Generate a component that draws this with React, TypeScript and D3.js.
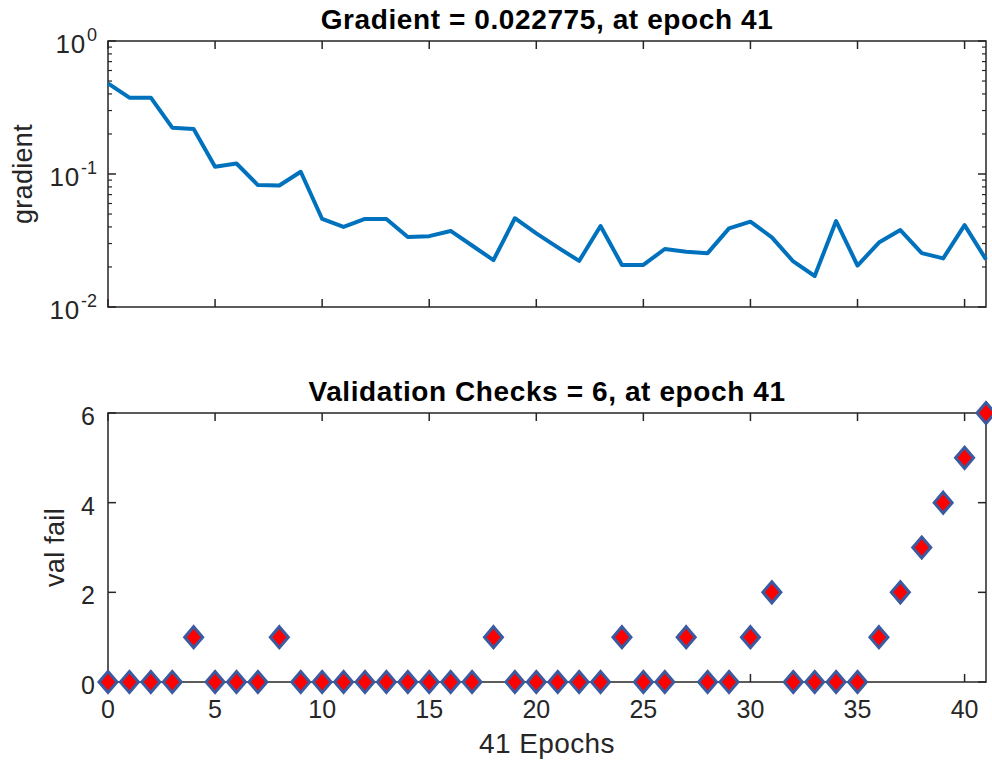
import React from 'react';
import * as d3 from 'd3';

// values
const epochs = d3.range(0, 42);
const gradient = [
  0.48, 0.375, 0.375, 0.223, 0.218, 0.1135, 0.12, 0.0826, 0.082, 0.104,
  0.0459, 0.04, 0.0459, 0.0459, 0.0336, 0.0341, 0.0373, 0.029, 0.0225, 0.0465,
  0.0358, 0.0281, 0.0222, 0.0406, 0.0207, 0.0207, 0.0273, 0.026, 0.0254, 0.039,
  0.0438, 0.0334, 0.022, 0.0171, 0.0443, 0.0205, 0.0305, 0.0379, 0.0254, 0.0232,
  0.0413, 0.022775,
];
const valFail = [
  0, 0, 0, 0, 1, 0, 0, 0, 1, 0, 0, 0, 0, 0, 0, 0, 0, 0, 1, 0, 0, 0, 0, 0, 1, 0,
  0, 1, 0, 0, 1, 2, 0, 0, 0, 0, 1, 2, 3, 4, 5, 6,
];
const xTicks = [0, 5, 10, 15, 20, 25, 30, 35, 40];
const valTicks = [0, 2, 4, 6];
const logTicks = [-2, -1, 0];

const W = 992;
const H = 767;
const FONT = '"Liberation Sans", Arial, sans-serif';
const AXIS = '#262626';

const App = () => {
  const left = 108;
  const right = 986;
  const top1 = 41;
  const bot1 = 307;
  const top2 = 413;
  const bot2 = 682;

  const x = d3.scaleLinear().domain([0, 41]).range([left, right]);
  const yG = d3.scaleLog().domain([0.01, 1]).range([bot1, top1]);
  const yV = d3.scaleLinear().domain([0, 6]).range([bot2, top2]);

  const line = d3
    .line<number>()
    .x((_, i) => x(epochs[i]))
    .y((d) => yG(d));

  // minor log ticks (2..9 of each decade)
  const minor = yG.ticks().filter((t) => Math.abs(Math.log10(t) - Math.round(Math.log10(t))) > 1e-6);

  const diamond = (cx: number, cy: number) =>
    `M${cx},${cy - 10.5}L${cx + 9},${cy}L${cx},${cy + 10.5}L${cx - 9},${cy}Z`;

  return (
    <svg width={W} height={H} style={{ position: 'absolute', left: 0, top: 0, background: '#fff' }} fontFamily={FONT}>
      {/* gradient panel */}
      <text x={(left + right) / 2} y={29} textAnchor="middle" fontSize={28} fontWeight="bold" letterSpacing={0.6} fill="#000">
        Gradient = 0.022775, at epoch 41
      </text>
      <rect x={left} y={top1} width={right - left} height={bot1 - top1} fill="none" stroke={AXIS} strokeWidth={1.5} />
      {xTicks.map((t) => (
        <g key={'gx' + t} stroke={AXIS} strokeWidth={1.5}>
          <line x1={x(t)} x2={x(t)} y1={top1} y2={top1 + 8} />
          <line x1={x(t)} x2={x(t)} y1={bot1} y2={bot1 - 8} />
        </g>
      ))}
      {logTicks.map((p) => (
        <g key={'gy' + p} stroke={AXIS} strokeWidth={1.5}>
          <line x1={left} x2={left + 8} y1={yG(10 ** p)} y2={yG(10 ** p)} />
          <line x1={right} x2={right - 8} y1={yG(10 ** p)} y2={yG(10 ** p)} />
        </g>
      ))}
      {minor.map((t, i) => (
        <g key={'gm' + i} stroke={AXIS} strokeWidth={1.2}>
          <line x1={left} x2={left + 4} y1={yG(t)} y2={yG(t)} />
          <line x1={right} x2={right - 4} y1={yG(t)} y2={yG(t)} />
        </g>
      ))}
      {logTicks.map((p) => (
        <text key={'gl' + p} x={97} y={yG(10 ** p) + 12} textAnchor="end" fontSize={26} letterSpacing={0.8} fill={AXIS}>
          10
          <tspan dx={1} dy={-12} fontSize={18} letterSpacing={0}>
            {p}
          </tspan>
        </text>
      ))}
      <text transform={`translate(32,${(top1 + bot1) / 2}) rotate(-90)`} textAnchor="middle" fontSize={27} letterSpacing={0.3} fill={AXIS}>
        gradient
      </text>
      <path d={line(gradient) || ''} fill="none" stroke="#0072BD" strokeWidth={4} strokeLinejoin="round" />

      {/* validation panel */}
      <text x={(left + right) / 2} y={401} textAnchor="middle" fontSize={28} fontWeight="bold" letterSpacing={0.6} fill="#000">
        Validation Checks = 6, at epoch 41
      </text>
      <rect x={left} y={top2} width={right - left} height={bot2 - top2} fill="none" stroke={AXIS} strokeWidth={1.5} />
      {xTicks.map((t) => (
        <g key={'vx' + t}>
          <line x1={x(t)} x2={x(t)} y1={top2} y2={top2 + 8} stroke={AXIS} strokeWidth={1.5} />
          <line x1={x(t)} x2={x(t)} y1={bot2} y2={bot2 - 8} stroke={AXIS} strokeWidth={1.5} />
          <text x={x(t)} y={718} textAnchor="middle" fontSize={25} fill={AXIS}>
            {t}
          </text>
        </g>
      ))}
      {valTicks.map((t) => (
        <g key={'vy' + t}>
          <line x1={left} x2={left + 8} y1={yV(t)} y2={yV(t)} stroke={AXIS} strokeWidth={1.5} />
          <line x1={right} x2={right - 8} y1={yV(t)} y2={yV(t)} stroke={AXIS} strokeWidth={1.5} />
          <text x={95} y={yV(t) + 12} textAnchor="end" fontSize={25} fill={AXIS}>
            {t}
          </text>
        </g>
      ))}
      <text transform={`translate(64,${(top2 + bot2) / 2}) rotate(-90)`} textAnchor="middle" fontSize={27} letterSpacing={0.3} fill={AXIS}>
        val fail
      </text>
      <text x={(left + right) / 2} y={753} textAnchor="middle" fontSize={28} letterSpacing={0.4} fill={AXIS}>
        41 Epochs
      </text>
      {valFail.map((v, i) => (
        <path key={'d' + i} d={diamond(x(epochs[i]), yV(v))} fill="#ff0000" stroke="#3a5ba0" strokeWidth={3} />
      ))}
    </svg>
  );
};

export default App;
